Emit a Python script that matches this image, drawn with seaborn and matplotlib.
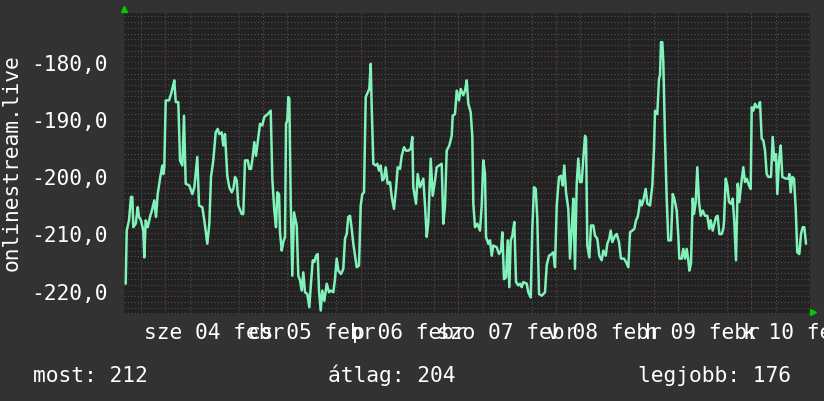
import pandas as pd
import matplotlib
matplotlib.use("Agg")
import matplotlib.pyplot as plt
from matplotlib.ticker import MultipleLocator, FixedLocator
import seaborn as sns

# hours since sze 04 febr 00:00
hours = [
    -9.73, -9.48, -8.92, -8.43, -8.11, -7.86, -7.27, -6.78, -6.46, -5.97,
    -5.41, -5.16, -4.82, -4.32, -3.76, -3.19, -2.70, -2.29, -1.87, -1.30,
    -0.74, -0.49, -0.25, 0.10, 0.91, 1.40, 1.82, 2.21, 2.56, 3.19,
    3.61, 4.18, 4.59, 5.01, 5.90, 6.63, 7.13, 7.86, 8.28, 9.09,
    9.58, 10.32, 10.81, 11.23, 11.79, 12.38, 12.87, 13.27, 13.86, 14.25,
    14.67, 15.23, 15.72, 16.31, 16.71, 17.13, 17.54, 17.94, 18.77, 19.16,
    19.58, 20.25, 20.64, 21.06, 21.47, 21.87, 22.28, 22.70, 23.27, 23.83,
    24.32, 25.16, 25.90, 26.29, 26.78, 27.20, 27.52, 27.94, 28.18, 28.60,
    28.99, 29.41, 29.66, 29.98, 30.22, 30.47, 30.81, 31.20, 31.62, 32.28,
    32.68, 33.10, 33.51, 33.91, 34.32, 34.89, 35.38, 35.72, 36.22, 36.61,
    37.03, 37.44, 37.76, 38.18, 38.57, 39.07, 39.66, 40.22, 40.71, 41.28,
    41.69, 42.11, 42.51, 43.17, 43.73, 44.15, 44.57, 44.96, 45.38, 45.80,
    46.19, 46.61, 47.03, 47.59, 48.01, 48.40, 48.82, 49.24, 49.73, 50.12,
    50.47, 50.71, 51.11, 51.69, 52.09, 52.51, 52.92, 53.32, 53.73, 54.15,
    54.64, 55.21, 55.63, 56.19, 56.68, 57.10, 57.67, 58.08, 58.65, 59.14,
    59.71, 60.29, 60.69, 60.93, 61.60, 62.01, 62.58, 63.39, 63.81, 64.23,
    64.62, 65.21, 65.70, 66.27, 66.68, 67.25, 67.91, 68.30, 68.72, 69.14,
    69.78, 70.37, 70.61, 71.18, 71.60, 72.16, 72.58, 73.22, 73.64, 74.05,
    74.45, 75.04, 75.43, 75.68, 76.09, 76.66, 77.32, 77.74, 78.13, 78.55,
    78.80, 79.36, 79.78, 80.20, 80.59, 81.42, 81.99, 82.48, 82.80, 83.22,
    83.71, 84.13, 84.52, 84.86, 85.26, 85.75, 86.17, 86.73, 87.15, 87.57,
    87.96, 88.80, 89.19, 89.78, 90.17, 90.59, 91.01, 91.40, 91.82, 92.48,
    93.29, 93.71, 94.27, 94.94, 95.33, 95.75, 96.17, 96.73, 97.22, 97.64,
    98.03, 98.45, 99.02, 99.43, 99.85, 100.25, 100.66, 101.08, 101.47, 101.89,
    102.31, 102.70, 103.12, 103.37, 103.69, 104.18, 104.59, 105.16, 105.58, 106.14,
    106.63, 107.22, 107.62, 108.21, 108.60, 109.09, 109.43, 109.83, 110.49, 110.91,
    111.47, 111.96, 112.70, 113.19, 113.76, 114.18, 114.74, 115.23, 115.65, 116.07,
    116.39, 116.63, 117.05, 117.44, 118.03, 118.43, 119.09, 119.66, 120.07, 120.32,
    120.88, 121.30, 121.55, 121.79, 122.11, 122.36, 122.78, 123.19, 123.59, 124.25,
    124.67, 125.06, 125.65, 126.04, 126.29, 126.88, 127.27, 127.69, 128.11, 128.50,
    128.75, 129.16, 129.58, 129.90, 130.32, 130.71, 131.13, 131.55, 132.04, 132.60,
    133.17, 133.66, 134.00, 134.49, 134.89, 135.31, 135.72, 136.12, 136.71, 137.10,
    137.27, 137.69, 138.08, 138.50, 138.99, 139.41, 139.80, 140.22, 140.64, 141.03,
    141.45, 142.01, 142.43, 142.85, 143.41, 143.83, 144.08, 144.47, 144.89, 145.31,
    145.70, 146.12, 146.53, 146.93, 147.35, 147.76, 148.15, 148.82, 149.23, 149.63,
    150.05, 150.37, 150.79, 151.20, 151.60, 152.43, 153.07, 153.32, 153.66, 154.05,
    154.47, 154.89, 155.28, 155.77, 156.19, 156.61, 157.00, 157.42,
]

values = [
    -218.8, -209.5, -207.7, -203.6, -203.6, -208.9, -208.3, -205.4, -207.1, -207.7,
    -209.5, -214.2, -207.7, -208.9, -207.1, -205.7, -204.2, -207.1, -203.1, -200.4,
    -198.1, -199.6, -198.4, -186.7, -186.7, -185.6, -184.4, -183.2, -187.0, -187.0,
    -197.2, -198.1, -189.4, -201.3, -201.6, -203.1, -201.9, -196.6, -205.1, -205.4,
    -207.7, -211.8, -208.3, -200.1, -197.2, -192.3, -191.7, -192.6, -192.3, -194.6,
    -192.6, -199.9, -201.9, -202.8, -202.2, -200.1, -200.7, -205.1, -206.6, -206.6,
    -197.2, -197.2, -198.7, -198.7, -196.6, -194.0, -196.4, -194.0, -190.8, -191.1,
    -189.6, -189.1, -188.5, -200.4, -206.0, -208.9, -202.8, -203.1, -209.8, -213.0,
    -211.5, -210.6, -190.8, -190.2, -186.1, -186.4, -204.2, -217.4, -206.3, -208.6,
    -217.4, -218.2, -220.0, -216.8, -220.3, -220.6, -222.9, -219.4, -214.7, -215.0,
    -213.9, -213.6, -220.0, -223.5, -220.0, -221.8, -218.8, -220.3, -220.0, -220.3,
    -218.0, -214.4, -216.5, -217.1, -216.2, -210.9, -210.1, -207.1, -206.9, -209.2,
    -211.8, -213.9, -215.9, -215.6, -205.1, -203.1, -202.8, -186.1, -185.3, -184.7,
    -180.3, -187.9, -197.8, -198.1, -197.8, -199.0, -198.1, -200.7, -200.4, -198.4,
    -201.3, -201.0, -203.6, -205.7, -202.2, -198.4, -198.7, -196.4, -194.9, -195.5,
    -195.5, -195.2, -193.1, -201.9, -204.8, -199.6, -201.9, -200.4, -205.1, -210.6,
    -208.0, -196.9, -203.4, -200.7, -198.4, -198.1, -197.8, -208.3, -205.1, -195.5,
    -194.6, -192.9, -189.4, -189.1, -185.0, -186.7, -184.7, -185.8, -185.0, -183.2,
    -187.3, -188.8, -193.1, -204.8, -208.9, -208.3, -209.5, -205.1, -197.2, -199.6,
    -210.6, -211.8, -211.2, -213.9, -212.1, -212.4, -213.6, -213.0, -209.8, -218.0,
    -217.7, -211.2, -219.4, -211.2, -210.4, -208.0, -218.5, -219.1, -218.8, -219.4,
    -218.5, -218.8, -220.3, -221.2, -209.2, -201.9, -202.2, -207.4, -220.6, -220.9,
    -220.3, -215.6, -213.9, -213.6, -213.3, -215.9, -205.1, -200.1, -199.9, -201.6,
    -198.1, -202.8, -205.7, -214.4, -209.2, -203.9, -216.2, -201.3, -196.9, -201.0,
    -201.0, -196.9, -192.9, -193.4, -212.1, -214.2, -208.6, -208.6, -210.4, -210.9,
    -213.9, -214.7, -213.0, -213.9, -211.8, -210.9, -209.5, -211.5, -210.4, -210.1,
    -211.5, -214.4, -214.4, -215.0, -215.9, -209.8, -209.5, -209.2, -207.7, -207.1,
    -205.7, -204.2, -205.1, -204.2, -202.2, -204.8, -205.1, -201.6, -195.2, -188.5,
    -189.1, -182.9, -182.3, -176.5, -176.5, -180.0, -193.4, -203.9, -211.2, -211.2,
    -203.1, -203.9, -206.0, -210.4, -214.4, -214.4, -212.7, -214.4, -212.7, -214.7,
    -216.5, -215.3, -203.9, -206.6, -204.5, -198.4, -204.5, -206.9, -206.0, -206.9,
    -206.9, -209.2, -207.7, -209.5, -208.3, -207.1, -206.9, -210.1, -210.1, -209.2,
    -208.0, -200.4, -201.6, -204.5, -204.8, -203.9, -208.0, -214.7, -201.3, -204.5,
    -201.6, -198.4, -201.0, -200.4, -201.6, -202.2, -187.9, -188.5, -187.3, -187.9,
    -187.9, -187.0, -193.4, -193.7, -195.5, -199.6, -200.1, -200.1, -193.1, -197.2,
    -196.1, -203.1, -197.2, -194.6, -200.1, -200.4, -200.4, -199.6, -202.8, -200.1,
    -200.4, -205.7, -213.3, -213.6, -210.1, -208.9, -208.9, -211.8,
]

day_label_hours = [12, 36, 60, 84, 108, 132, 156]
day_labels = ["sze 04 febr", "cs 05 febr", "p 06 febr", "szo 07 febr",
              "v 08 febr", "h 09 febr", "k 10 febr"]
midnights = [0, 24, 48, 72, 96, 120, 144]
y_ticks = [-220, -210, -200, -190, -180]
y_tick_labels = ["-220,0", "-210,0", "-200,0", "-190,0", "-180,0"]
series_name = "onlinestream.live"
summary_names = ["most", "átlag", "legjobb"]
summary_values = [212, 204, 176]

df = pd.DataFrame({"hours": hours, "value": values})

sns.set_style("dark")
plt.rcParams["font.family"] = ["DejaVu Sans Mono"]
fs = 15.3
plt.rcParams["font.size"] = fs

bg = "#323232"
fig = plt.figure(figsize=(8.24, 4.02), dpi=100, facecolor=bg)
ax = fig.add_axes([124 / 824, 87 / 402, 686 / 824, 301 / 402])
ax.set_facecolor("#222222")

# grid like rrdtool: grey dotted minor, red dotted major
ax.xaxis.set_minor_locator(MultipleLocator(6))
ax.yaxis.set_minor_locator(MultipleLocator(1))
ax.grid(which="minor", color="#505050", linestyle=(0, (1, 2)), linewidth=0.8)
ax.grid(which="major", visible=False)
for m in midnights:
    ax.axvline(m, color="#6e3636", linestyle=(0, (1, 2)), linewidth=0.8, zorder=1)
for t in y_ticks:
    ax.axhline(t, color="#6e3636", linestyle=(0, (1, 2)), linewidth=0.8, zorder=1)
ax.set_axisbelow(True)

sns.lineplot(data=df, x="hours", y="value", ax=ax, color="#80F2BA",
             linewidth=1.8, zorder=3)

ax.set_xlim(-10.15, 158.4)
ax.set_ylim(-224.1, -171.4)

ax.xaxis.set_major_locator(FixedLocator(day_label_hours))
ax.set_xticklabels(day_labels)
ax.set_yticks(y_ticks)
ax.set_yticklabels(y_tick_labels)
ax.tick_params(which="both", length=0, colors="white", labelsize=fs)
ax.tick_params(axis="x", pad=5.5)
ax.tick_params(axis="y", pad=12)
ax.set_xlabel("")
ax.set_ylabel("")
for s in ax.spines.values():
    s.set_visible(False)

# rrdtool axis arrows
ax.plot([0], [1 + 4 / 301], marker="^", color="#00cc00", ms=4.5,
        transform=ax.transAxes, clip_on=False)
ax.plot([1 + 3 / 686], [2 / 301], marker=">", color="#00cc00", ms=4.5,
        transform=ax.transAxes, clip_on=False)

fig.text(12 / 824, (402 - 163) / 402, series_name, rotation=90,
         color="white", ha="center", va="center", fontsize=fs)

summary_x = [33, 328, 638]
for sx, name, val in zip(summary_x, summary_names, summary_values):
    fig.text(sx / 824, (402 - 382) / 402, f"{name}: {val}", color="white",
             ha="left", va="baseline", fontsize=fs)

fig.savefig("out.png", dpi=100, facecolor=bg)
